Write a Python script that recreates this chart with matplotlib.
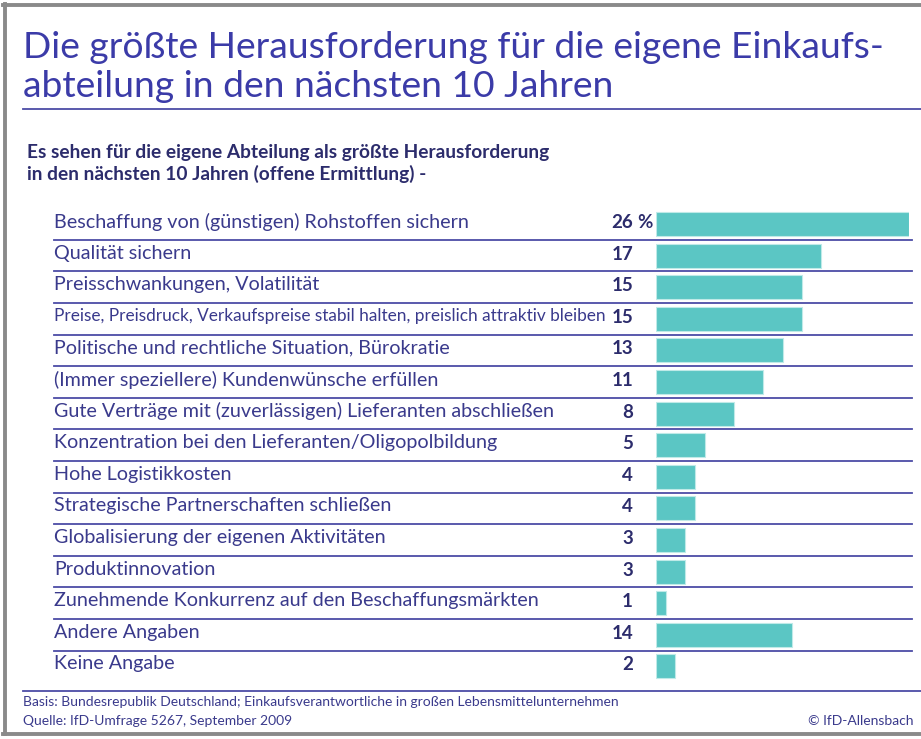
import matplotlib.pyplot as plt
import matplotlib.transforms as mtransforms
from matplotlib.lines import Line2D

# Daten
labels = [
    'Beschaffung von (günstigen) Rohstoffen sichern',
    'Qualität sichern',
    'Preisschwankungen, Volatilität',
    'Preise, Preisdruck, Verkaufspreise stabil halten, preislich attraktiv bleiben',
    'Politische und rechtliche Situation, Bürokratie',
    '(Immer speziellere) Kundenwünsche erfüllen',
    'Gute Verträge mit (zuverlässigen) Lieferanten abschließen',
    'Konzentration bei den Lieferanten/Oligopolbildung',
    'Hohe Logistikkosten',
    'Strategische Partnerschaften schließen',
    'Globalisierung der eigenen Aktivitäten',
    'Produktinnovation',
    'Zunehmende Konkurrenz auf den Beschaffungsmärkten',
    'Andere Angaben',
    'Keine Angabe',
]
values = [26, 17, 15, 15, 13, 11, 8, 5, 4, 4, 3, 3, 1, 14, 2]

title_lines = ['Die größte Herausforderung für die eigene Einkaufs-',
               'abteilung in den nächsten 10 Jahren']
subtitle_lines = ['Es sehen für die eigene Abteilung als größte Herausforderung',
                  'in den nächsten 10 Jahren (offene Ermittlung) -']
basis = 'Basis: Bundesrepublik Deutschland; Einkaufsverantwortliche in großen Lebensmittelunternehmen'
quelle = 'Quelle: IfD-Umfrage 5267, September 2009'
copyright_txt = '© IfD-Allensbach'

plt.rcParams['font.family'] = ['Lato', 'DejaVu Sans']

W, H = 921, 739
fig = plt.figure(figsize=(W / 100, H / 100), dpi=100)
fig.patch.set_facecolor('white')
renderer = fig.canvas.get_renderer()

def fx(px):
    return px / W

def fy(py):
    return 1 - py / H

def fit(texts, target):
    # Schriftgröße so anpassen, dass der erste Text die Zielbreite (px) hat
    w = texts[0].get_window_extent(renderer).width
    s = texts[0].get_fontsize() * target / w
    for t in texts:
        t.set_fontsize(s)
    return s

title_col = '#3b3ba8'
text_col = '#3a3a8c'
dark_col = '#2c2c6c'
line_col = '#4c4ca6'
bar_col = '#5bc6c4'

# Balkenbereich
top, bottom = 208.2, 682.2
ax = fig.add_axes([fx(656), fy(bottom), fx(909) - fx(656), (bottom - top) / H])
ax.barh(range(len(values)), values, height=0.76, color=bar_col,
        edgecolor='#bfeae8', linewidth=0.8)
ax.set_xlim(0, max(values))
ax.set_ylim(len(values) - 0.5, -0.5)
ax.axis('off')

trans = mtransforms.blended_transform_factory(fig.transFigure, ax.transData)

# Trennlinien zwischen den Zeilen
for i in range(len(values) - 1):
    ax.add_line(Line2D([fx(54), fx(912)], [i + 0.5, i + 0.5], transform=trans,
                       color=line_col, lw=1.3, clip_on=False))

row_texts = []
for i, lab in enumerate(labels):
    row_texts.append(ax.text(fx(54), i - 0.08, lab, transform=trans, ha='left',
                             va='center', fontsize=13, color=text_col, clip_on=False))
lab_size = fit(row_texts, 414)
max_w = 550
for t in row_texts:
    w = t.get_window_extent(renderer).width
    if w > max_w:
        t.set_fontsize(lab_size * max_w / w)

for i, v in enumerate(values):
    ax.text(fx(633), i - 0.05, str(v), transform=trans, ha='right', va='center',
            fontsize=13.5, fontweight='bold', color=dark_col, clip_on=False)
    if i == 0:
        ax.text(fx(637), i - 0.05, '%', transform=trans, ha='left', va='center',
                fontsize=13.5, fontweight='bold', color=dark_col, clip_on=False)

# Titel
t1 = fig.text(fx(23), fy(58), title_lines[0], fontsize=25, color=title_col,
              va='baseline')
t2 = fig.text(fx(23), fy(97), title_lines[1], fontsize=25, color=title_col,
              va='baseline')
fit([t1, t2], 862)
fig.add_artist(Line2D([fx(23), 1], [fy(109), fy(109)], color=line_col, lw=1.3))

s1 = fig.text(fx(27), fy(158), subtitle_lines[0], fontsize=12.5, fontweight='bold',
              color=dark_col, va='baseline')
s2 = fig.text(fx(27), fy(180), subtitle_lines[1], fontsize=12.5, fontweight='bold',
              color=dark_col, va='baseline')
fit([s1, s2], 526)

# Fußzeile
fig.add_artist(Line2D([fx(23), 1], [fy(691), fy(691)], color=line_col, lw=1.3))
b1 = fig.text(fx(23), fy(706), basis, fontsize=9.5, color=text_col, va='baseline')
b2 = fig.text(fx(23), fy(725), quelle, fontsize=9.5, color=text_col, va='baseline')
b3 = fig.text(fx(913), fy(725), copyright_txt, fontsize=9.5, color=text_col,
              va='baseline', ha='right')
fit([b1, b2, b3], 599)

# grauer Rahmen
frame_col = '#8a8a8a'
fig.add_artist(Line2D([fx(5), fx(5)], [fy(4), fy(734)], color=frame_col, lw=2.8))
fig.add_artist(Line2D([fx(3), 1], [fy(5), fy(5)], color=frame_col, lw=2.8))
fig.add_artist(Line2D([fx(3), 1], [fy(734), fy(734)], color=frame_col, lw=2.8))

fig.savefig('out.png', dpi=100, facecolor='white')
